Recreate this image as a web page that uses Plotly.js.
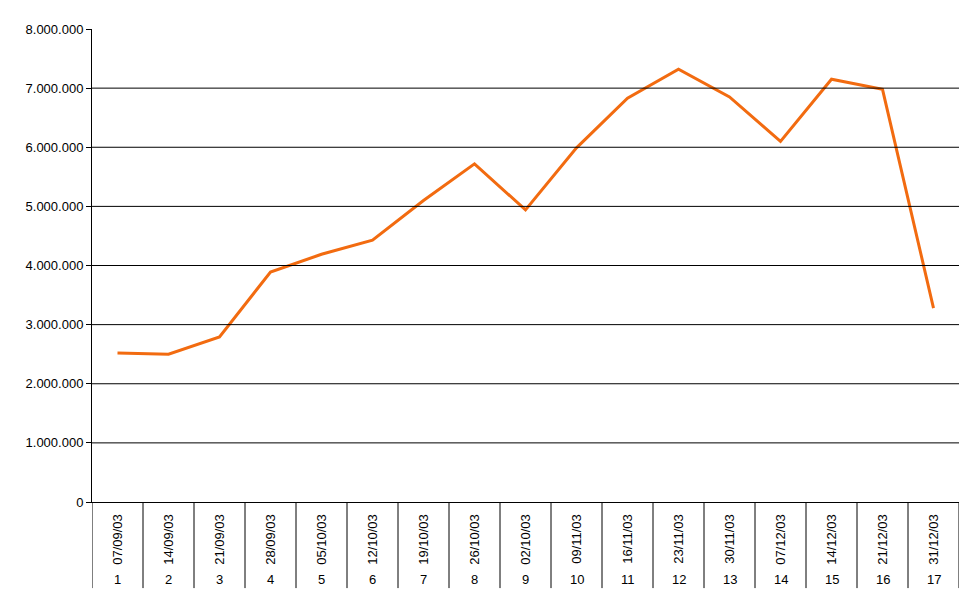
<!DOCTYPE html>
<html>
<head>
<meta charset="utf-8">
<script src="https://cdn.plot.ly/plotly-3.0.1.min.js"></script>
<style>html,body{margin:0;padding:0;background:#fff;}#chart{width:966px;height:604px;}</style>
</head>
<body>
<div id="chart"></div>
<script>
const weekNumbers = [1,2,3,4,5,6,7,8,9,10,11,12,13,14,15,16,17];
const weekDates = ["07/09/03","14/09/03","21/09/03","28/09/03","05/10/03","12/10/03","19/10/03","26/10/03","02/10/03","09/11/03","16/11/03","23/11/03","30/11/03","07/12/03","14/12/03","21/12/03","31/12/03"];
const values = [2520000,2500000,2790000,3890000,4190000,4430000,5100000,5720000,4940000,5990000,6830000,7320000,6850000,6100000,7150000,6980000,3280000];
const yTicks = [0,1000000,2000000,3000000,4000000,5000000,6000000,7000000,8000000];

const font = {family: "Liberation Sans, Arial, sans-serif", size: 13, color: "#000"};

const shapes = [];
yTicks.filter(v => v > 0 && v < 8000000).forEach(v => {
  shapes.push({type: "line", xref: "paper", yref: "y", x0: 0, x1: 1, y0: v, y1: v,
    line: {color: "#000", width: 1}});
});
for (let i = 0; i <= weekNumbers.length; i++) {
  shapes.push({type: "line", xref: "x", yref: "paper", x0: i + 0.5, x1: i + 0.5, y0: 0, y1: -0.182,
    line: {color: "#000", width: 1}});
}

const annotations = weekNumbers.map(n => ({
  x: n, y: -0.163, xref: "x", yref: "paper", text: String(n), showarrow: false,
  font: font, xanchor: "center", yanchor: "middle"
}));

const trace = {
  x: weekNumbers, y: values, type: "scatter", mode: "lines",
  line: {color: "#F26B10", width: 3}, hoverinfo: "skip"
};

const layout = {
  width: 966, height: 604,
  margin: {l: 92, r: 7, t: 29, b: 102},
  paper_bgcolor: "#fff", plot_bgcolor: "#fff",
  separators: ",.",
  showlegend: false,
  font: font,
  xaxis: {
    range: [0.5, 17.5], tickmode: "array", tickvals: weekNumbers, ticktext: weekDates,
    tickangle: -90, ticks: "", showgrid: false, zeroline: false,
    showline: true, linecolor: "#000", linewidth: 1, ticklabelstandoff: 6,
    tickfont: font, fixedrange: true
  },
  yaxis: {
    range: [0, 8000000], tickmode: "array", tickvals: yTicks, tickformat: ",d",
    ticks: "outside", ticklen: 5, tickcolor: "#000", showgrid: false, zeroline: false,
    showline: true, linecolor: "#000", linewidth: 1, tickfont: font, fixedrange: true
  },
  shapes: shapes,
  annotations: annotations
};

Plotly.newPlot("chart", [trace], layout, {displayModeBar: false, staticPlot: true});
</script>
</body>
</html>
